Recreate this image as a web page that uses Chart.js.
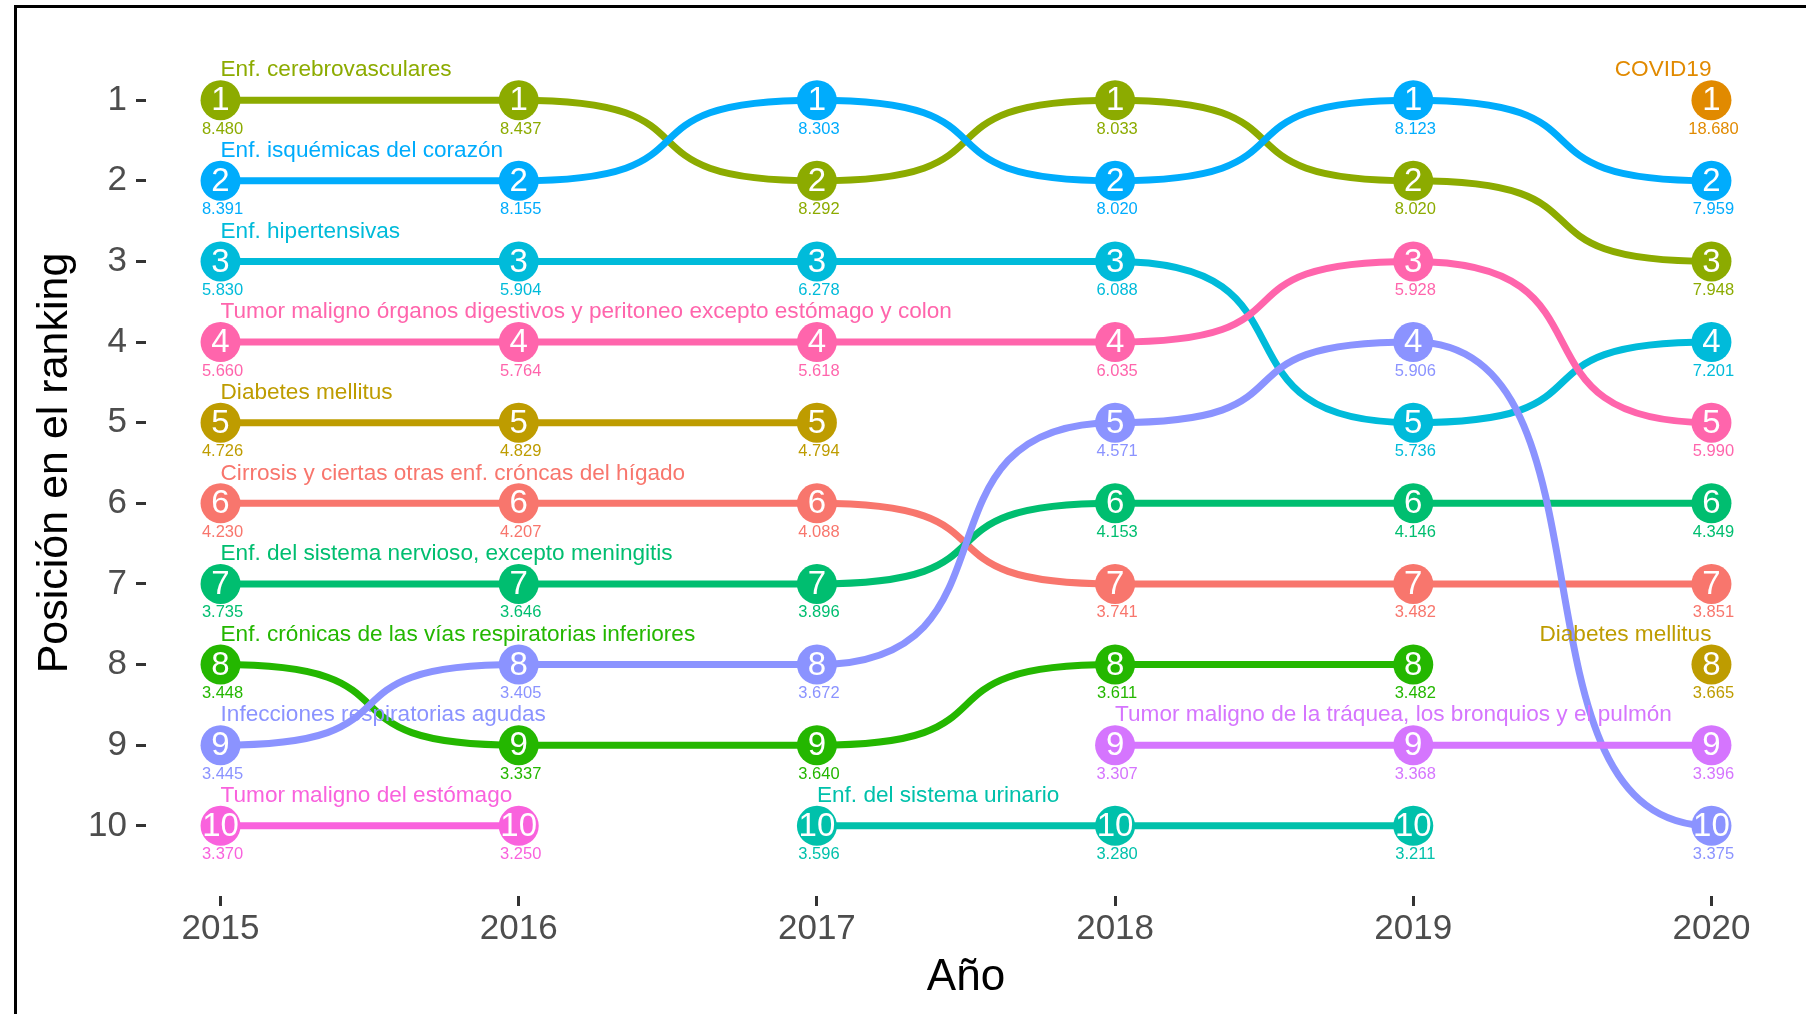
<!DOCTYPE html>
<html>
<head>
<meta charset="utf-8">
<script src="https://cdn.jsdelivr.net/npm/chart.js@4.4.1/dist/chart.umd.min.js"></script>
<style>
  html, body { margin: 0; padding: 0; background: #fff; }
  #wrap { position: relative; width: 1806px; height: 1014px; overflow: hidden; }
  #frame { position: absolute; left: 14px; top: 5px; right: -10px; bottom: -10px;
           border-left: 3px solid #000; border-top: 3px solid #000; pointer-events: none; }
</style>
</head>
<body>
<div id="wrap">
  <canvas id="chart" width="1806" height="1014"></canvas>
  <div id="frame"></div>
</div>
<script>
const YEARS = [2015, 2016, 2017, 2018, 2019, 2020];
const RANKS = [1, 2, 3, 4, 5, 6, 7, 8, 9, 10];

const CAUSES = [
    'Cirrosis y ciertas otras enf. cróncas del hígado',
    'COVID19',
    'Diabetes mellitus',
    'Enf. cerebrovasculares',
    'Enf. crónicas de las vías respiratorias inferiores',
    'Enf. del sistema nervioso, excepto meningitis',
    'Enf. del sistema urinario',
    'Enf. hipertensivas',
    'Enf. isquémicas del corazón',
    'Infecciones respiratorias agudas',
    'Tumor maligno de la tráquea, los bronquios y el pulmón',
    'Tumor maligno del estómago',
    'Tumor maligno órganos digestivos y peritoneo excepto estómago y colon'
];
const COLORS = [
    '#F8766D', '#E18A00', '#BE9C00', '#8CAB00', '#24B700', '#00BE70', '#00C1AB',
    '#00BBDA', '#00ACFC', '#8B93FF', '#D575FE', '#F962DD', '#FF65AC'
];

// ranking position per year (2015..2020), null = not in the top 10
const rankCirrosis     = [6, 6, 6, 7, 7, 7];
const rankCovid        = [null, null, null, null, null, 1];
const rankDiabetes     = [5, 5, 5, null, null, 8];
const rankCerebro      = [1, 1, 2, 1, 2, 3];
const rankCronicas     = [8, 9, 9, 8, 8, null];
const rankNervioso     = [7, 7, 7, 6, 6, 6];
const rankUrinario     = [null, null, 10, 10, 10, null];
const rankHipert       = [3, 3, 3, 3, 5, 4];
const rankIsquemicas   = [2, 2, 1, 2, 1, 2];
const rankInfecciones  = [9, 8, 8, 5, 4, 10];
const rankTraquea      = [null, null, null, 9, 9, 9];
const rankEstomago     = [10, 10, null, null, null, null];
const rankDigestivos   = [4, 4, 4, 4, 3, 5];

// value shown under each point
const valCirrosis      = [4.230, 4.207, 4.088, 3.741, 3.482, 3.851];
const valCovid         = [null, null, null, null, null, 18.680];
const valDiabetes      = [4.726, 4.829, 4.794, null, null, 3.665];
const valCerebro       = [8.480, 8.437, 8.292, 8.033, 8.020, 7.948];
const valCronicas      = [3.448, 3.337, 3.640, 3.611, 3.482, null];
const valNervioso      = [3.735, 3.646, 3.896, 4.153, 4.146, 4.349];
const valUrinario      = [null, null, 3.596, 3.280, 3.211, null];
const valHipert        = [5.830, 5.904, 6.278, 6.088, 5.736, 7.201];
const valIsquemicas    = [8.391, 8.155, 8.303, 8.020, 8.123, 7.959];
const valInfecciones   = [3.445, 3.405, 3.672, 4.571, 5.906, 3.375];
const valTraquea       = [null, null, null, 3.307, 3.368, 3.396];
const valEstomago      = [3.370, 3.250, null, null, null, null];
const valDigestivos    = [5.660, 5.764, 5.618, 6.035, 5.928, 5.990];

const RANKING = [rankCirrosis, rankCovid, rankDiabetes, rankCerebro, rankCronicas, rankNervioso,
    rankUrinario, rankHipert, rankIsquemicas, rankInfecciones, rankTraquea, rankEstomago, rankDigestivos];
const VALUES = [valCirrosis, valCovid, valDiabetes, valCerebro, valCronicas, valNervioso,
    valUrinario, valHipert, valIsquemicas, valInfecciones, valTraquea, valEstomago, valDigestivos];

const FONT = '"Liberation Sans", Arial, sans-serif';
const SMOOTH = 0.72;

// flat tangents at every point -> sigmoid-like bump curves between years
const bumpCurves = {
    id: 'bumpCurves',
    beforeDatasetDraw(chart, args) {
        const pts = args.meta.data;
        pts.forEach((p, i) => {
            const prev = pts[i - 1];
            const next = pts[i + 1];
            p.cp1x = prev ? p.x - SMOOTH * (p.x - prev.x) : p.x;
            p.cp1y = p.y;
            p.cp2x = next ? p.x + SMOOTH * (next.x - p.x) : p.x;
            p.cp2y = p.y;
        });
        args.meta.dataset._pointsUpdated = true;
    }
};

const bumpLabels = {
    id: 'bumpLabels',
    afterDatasetsDraw(chart) {
        const ctx = chart.ctx;
        ctx.save();
        ctx.textBaseline = 'middle';
        chart.data.datasets.forEach((ds, di) => {
            const meta = chart.getDatasetMeta(di);
            meta.data.forEach((p, i) => {
                const rank = RANKING[di][i];
                if (rank == null) return;
                ctx.textAlign = 'center';
                ctx.fillStyle = '#fff';
                ctx.font = '33px ' + FONT;
                ctx.fillText(String(rank), p.x, p.y + 1);
                ctx.fillStyle = COLORS[di];
                ctx.font = '16.5px ' + FONT;
                ctx.fillText(VALUES[di][i].toFixed(3), p.x + 2, p.y + 29);
            });
        });
        chart.data.datasets.forEach((ds, di) => {
            const meta = chart.getDatasetMeta(di);
            meta.data.forEach((p, i) => {
                if (RANKING[di][i] == null) return;
                if (i > 0 && RANKING[di][i - 1] != null) return;
                ctx.textAlign = i === YEARS.length - 1 ? 'right' : 'left';
                ctx.fillStyle = COLORS[di];
                ctx.font = '22.6px ' + FONT;
                ctx.fillText(CAUSES[di], p.x, p.y - 30);
            });
        });
        ctx.restore();
    }
};

const datasets = CAUSES.map((name, i) => ({
    label: name,
    data: YEARS.map((yr, j) => ({ x: yr, y: RANKING[i][j] })),
    borderColor: COLORS[i],
    backgroundColor: COLORS[i],
    pointBackgroundColor: COLORS[i],
    borderWidth: 7,
    pointRadius: 20,
    pointHoverRadius: 20,
    pointBorderWidth: 0,
    tension: 0.4,
    spanGaps: false,
    clip: false,
    order: CAUSES.length - i
}));

new Chart(document.getElementById('chart'), {
    type: 'line',
    data: { datasets },
    options: {
        responsive: false,
        animation: false,
        layout: { padding: { top: 30, right: 12, left: 0, bottom: 0 } },
        plugins: {
            legend: { display: false },
            tooltip: { enabled: false }
        },
        scales: {
            x: {
                type: 'linear',
                min: 2014.75,
                max: 2020.25,
                afterBuildTicks: s => { s.ticks = YEARS.map(v => ({ value: v })); },
                afterFit: s => { s.height = 118; s.paddingLeft = 0; s.paddingRight = 0; },
                grid: { drawOnChartArea: false, drawTicks: true, tickLength: 10, tickWidth: 3, tickColor: '#333' },
                border: { display: false },
                ticks: {
                    color: '#4d4d4d',
                    font: { size: 35, family: FONT },
                    padding: 2,
                    maxRotation: 0,
                    autoSkip: false,
                    callback: v => String(v)
                },
                title: {
                    display: true,
                    text: 'Año',
                    color: '#000',
                    font: { size: 44, family: FONT },
                    padding: { top: 0, bottom: 10 }
                }
            },
            y: {
                type: 'linear',
                reverse: true,
                min: 0.13,
                max: 10.87,
                afterBuildTicks: s => { s.ticks = RANKS.map(v => ({ value: v })); },
                afterFit: s => { s.width = 146; },
                grid: { drawOnChartArea: false, drawTicks: true, tickLength: 10, tickWidth: 3, tickColor: '#333' },
                border: { display: false },
                ticks: {
                    color: '#4d4d4d',
                    font: { size: 35, family: FONT },
                    padding: 9
                },
                title: {
                    display: true,
                    text: 'Posición en el ranking',
                    color: '#000',
                    font: { size: 43, family: FONT },
                    padding: { top: 29, bottom: 0 }
                }
            }
        }
    },
    plugins: [bumpCurves, bumpLabels]
});
</script>
</body>
</html>
